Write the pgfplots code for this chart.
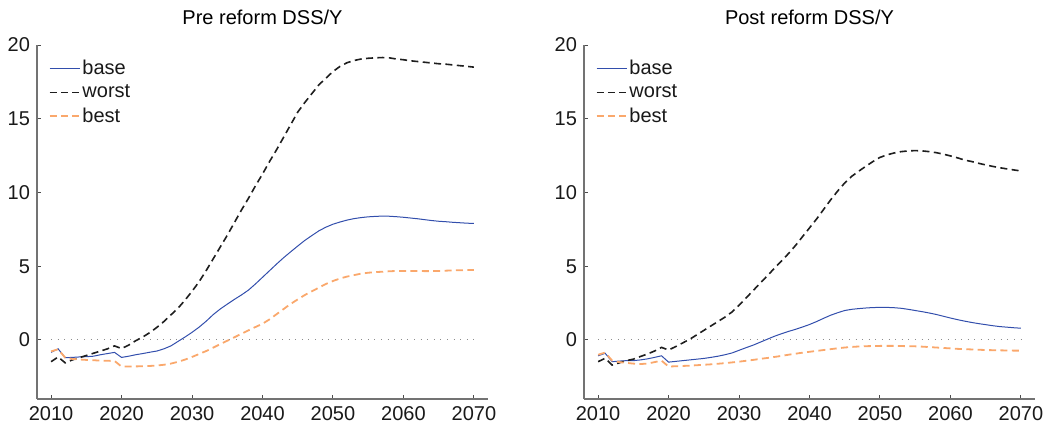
\documentclass[border=0pt]{standalone}
\usepackage{fontspec}
\setmainfont{Liberation Sans}
\usepackage{pgfplots}
\usepackage{pgfplotstable}
\pgfplotsset{compat=1.18}

\definecolor{basecol}{RGB}{50,78,172}
\definecolor{worstcol}{RGB}{30,30,30}
\definecolor{bestcol}{RGB}{250,168,108}

% debt-to-GDP paths before the reform
\pgfplotstableread{
year base worst best
2010 -0.84 -1.47 -0.77
2011 -0.60 -1.15 -0.63
2012 -1.20 -1.55 -1.20
2013 -1.18 -1.35 -1.28
2014 -1.15 -1.20 -1.32
2015 -1.13 -1.05 -1.35
2016 -1.10 -0.90 -1.37
2017 -1.00 -0.75 -1.40
2018 -0.92 -0.60 -1.41
2019 -0.84 -0.40 -1.42
2020 -1.18 -0.58 -1.80
2021 -1.10 -0.35 -1.80
2022 -1.00 -0.05 -1.79
2023 -0.92 0.20 -1.78
2024 -0.83 0.50 -1.76
2025 -0.75 0.85 -1.73
2026 -0.60 1.25 -1.68
2027 -0.40 1.70 -1.60
2028 -0.10 2.15 -1.48
2029 0.20 2.70 -1.33
2030 0.52 3.30 -1.15
2031 0.87 3.95 -0.95
2032 1.27 4.70 -0.75
2033 1.72 5.50 -0.52
2034 2.10 6.30 -0.28
2035 2.43 7.10 -0.05
2036 2.75 7.95 0.18
2037 3.05 8.80 0.42
2038 3.38 9.60 0.65
2039 3.80 10.45 0.88
2040 4.25 11.25 1.10
2041 4.70 12.10 1.40
2042 5.15 12.90 1.75
2043 5.58 13.75 2.10
2044 5.98 14.60 2.45
2045 6.37 15.45 2.75
2046 6.75 16.10 3.05
2047 7.08 16.70 3.30
2048 7.40 17.30 3.55
2049 7.65 17.75 3.80
2050 7.85 18.20 4.00
2051 8.00 18.55 4.17
2052 8.13 18.80 4.30
2053 8.23 18.95 4.40
2054 8.30 19.05 4.50
2055 8.35 19.10 4.56
2056 8.38 19.13 4.60
2057 8.40 19.15 4.63
2058 8.39 19.13 4.66
2059 8.36 19.05 4.68
2060 8.32 19.00 4.68
2061 8.27 18.93 4.68
2062 8.22 18.88 4.68
2063 8.16 18.83 4.67
2064 8.10 18.78 4.67
2065 8.05 18.73 4.68
2066 8.02 18.70 4.70
2067 7.98 18.65 4.72
2068 7.95 18.60 4.73
2069 7.92 18.55 4.74
2070 7.90 18.50 4.75
}\pretable

% debt-to-GDP paths after the reform
\pgfplotstableread{
year base worst best
2010 -1.07 -1.47 -1.00
2011 -0.90 -1.24 -0.85
2012 -1.47 -1.70 -1.40
2013 -1.43 -1.55 -1.50
2014 -1.40 -1.40 -1.55
2015 -1.40 -1.30 -1.60
2016 -1.35 -1.12 -1.63
2017 -1.28 -0.95 -1.60
2018 -1.18 -0.75 -1.50
2019 -1.07 -0.50 -1.40
2020 -1.50 -0.68 -1.80
2021 -1.45 -0.45 -1.78
2022 -1.40 -0.20 -1.76
2023 -1.35 0.05 -1.74
2024 -1.30 0.35 -1.71
2025 -1.25 0.65 -1.68
2026 -1.18 0.95 -1.65
2027 -1.10 1.25 -1.61
2028 -1.00 1.55 -1.57
2029 -0.88 1.90 -1.52
2030 -0.70 2.35 -1.47
2031 -0.52 2.85 -1.41
2032 -0.35 3.35 -1.35
2033 -0.15 3.85 -1.28
2034 0.05 4.35 -1.22
2035 0.25 4.85 -1.15
2036 0.42 5.35 -1.08
2037 0.58 5.85 -1.00
2038 0.72 6.40 -0.93
2039 0.88 7.00 -0.86
2040 1.05 7.60 -0.80
2041 1.25 8.20 -0.74
2042 1.47 8.85 -0.68
2043 1.68 9.50 -0.62
2044 1.85 10.10 -0.56
2045 2.00 10.65 -0.51
2046 2.08 11.10 -0.47
2047 2.13 11.45 -0.44
2048 2.17 11.78 -0.42
2049 2.20 12.10 -0.41
2050 2.21 12.38 -0.40
2051 2.21 12.55 -0.40
2052 2.19 12.68 -0.40
2053 2.15 12.77 -0.41
2054 2.08 12.82 -0.42
2055 2.00 12.84 -0.43
2056 1.92 12.82 -0.45
2057 1.83 12.77 -0.48
2058 1.73 12.70 -0.51
2059 1.61 12.60 -0.54
2060 1.49 12.48 -0.57
2061 1.38 12.35 -0.60
2062 1.28 12.20 -0.62
2063 1.19 12.10 -0.64
2064 1.11 11.98 -0.66
2065 1.04 11.87 -0.68
2066 0.97 11.77 -0.69
2067 0.91 11.68 -0.70
2068 0.87 11.60 -0.71
2069 0.83 11.53 -0.72
2070 0.80 11.46 -0.72
}\posttable

\pgfplotsset{
  panel/.style={
    scale only axis, width=225.5pt, height=177pt,
    xmin=2008, xmax=2072, ymin=-4, ymax=20,
    axis x line*=bottom, axis y line*=left,
    axis line style={-, draw=black!55, line width=0.7pt},
    xtick={2010,2020,...,2070}, ytick={0,5,...,20},
    tick align=inside, major tick length=2pt,
    tick style={black!70, line width=0.5pt},
    /pgf/number format/.cd, 1000 sep={}, assume math mode=true, /pgfplots/.cd,
    ticklabel style={font=\fontsize{10}{12}\selectfont, text=black!90},
    title style={font=\fontsize{10}{12}\selectfont, yshift=0.5pt},
    legend style={at={(0.025,0.965)}, anchor=north west, draw=none, fill=none,
      font=\fontsize{10}{12}\selectfont, inner sep=0pt,
      nodes={inner sep=1pt, text=black!90}, row sep=1.6pt},
    legend cell align=left,
    legend image code/.code={\draw[##1] (0pt,0pt) -- (15pt,0pt);},
  },
  zeroline/.style={black!45, line width=0.5pt, dash pattern=on 0.5pt off 2.8pt, forget plot},
  baseline/.style={basecol, line width=0.5pt},
  worstline/.style={worstcol, line width=0.8pt, dash pattern=on 3.5pt off 2.2pt},
  bestline/.style={bestcol, line width=0.9pt, dash pattern=on 3.5pt off 2.2pt},
}

\begin{document}
\begin{tikzpicture}
\path[use as bounding box] (-18.5pt,-12pt) rectangle (504pt,199.5pt);

\begin{axis}[panel, title={Pre reform DSS/Y}]
  \addplot[zeroline] coordinates {(2010,0) (2070,0)};
  \addplot[baseline] table[x=year, y=base] {\pretable};
  \addplot[worstline] table[x=year, y=worst] {\pretable};
  \addplot[bestline] table[x=year, y=best] {\pretable};
  \legend{base, worst, best}
\end{axis}

\begin{axis}[panel, at={(273.5pt,0pt)}, title={Post reform DSS/Y}]
  \addplot[zeroline] coordinates {(2010,0) (2070,0)};
  \addplot[baseline] table[x=year, y=base] {\posttable};
  \addplot[worstline] table[x=year, y=worst] {\posttable};
  \addplot[bestline] table[x=year, y=best] {\posttable};
  \legend{base, worst, best}
\end{axis}
\end{tikzpicture}
\end{document}
